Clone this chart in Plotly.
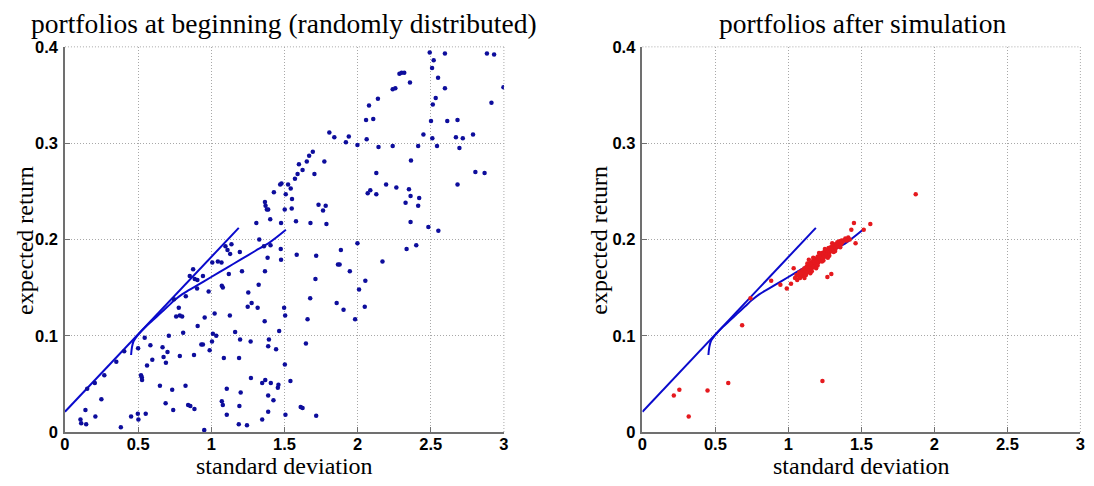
import plotly.graph_objects as go

# ---------------- data ----------------
start_sd = [2.493,2.597,2.884,2.933,2.520,2.509,2.550,2.597,2.997,2.534,2.514,2.915,2.502,2.613,2.683,2.511,2.672,2.719,2.789,2.543,
            2.696,2.450,2.414,2.358,2.286,2.301,2.319,2.258,2.240,2.139,2.078,2.058,2.107,2.062,2.143,2.240,1.999,1.940,1.920,1.841,
            1.807,2.365,2.128,2.195,2.265,2.351,2.069,2.087,2.128,2.362,2.421,2.328,2.414,2.362,2.484,2.552,2.805,2.868,2.683,1.773,
            1.694,1.669,1.653,1.624,1.599,1.590,1.572,1.705,1.525,1.543,1.509,1.552,1.550,1.502,1.480,1.471,1.428,1.367,1.371,1.380,
            1.389,1.403,1.308,1.477,1.579,1.678,1.733,1.782,1.764,1.787,
            0.106,0.111,0.140,0.145,0.208,0.249,0.269,0.204,0.152,0.351,0.382,0.405,0.452,0.498,0.502,0.500,0.520,0.525,0.527,0.552,
            0.545,0.561,0.584,0.597,0.649,0.667,0.674,0.688,0.690,0.701,0.710,0.733,0.740,0.760,0.778,0.785,0.801,0.808,0.824,0.785,
            0.826,0.842,0.857,0.885,0.882,0.907,0.903,0.932,0.943,0.955,0.952,0.982,0.989,1.005,1.011,1.023,1.034,1.072,1.079,1.072,
            1.079,1.086,1.106,1.106,1.120,1.127,1.163,1.190,1.192,1.201,1.188,1.197,1.210,1.249,1.253,1.244,1.269,1.271,1.276,1.317,
            1.324,1.348,1.348,1.369,1.367,1.385,1.389,1.389,1.389,1.394,1.407,1.425,1.443,1.455,1.459,1.464,1.475,1.477,1.498,1.505,
            1.503,1.507,1.541,1.584,1.611,1.138,1.097,1.111,1.129,1.195,1.405,1.360,1.070,1.007,1.045,0.943,0.905,0.876,0.853,0.887,
            1.328,0.745,
            2.335,2.401,2.170,1.999,1.886,1.717,1.866,1.877,1.947,1.712,2.053,2.010,1.676,1.857,2.049,1.904,1.658,1.983,1.647,1.624,
            1.717,1.365]
start_ret = [0.394,0.393,0.393,0.392,0.386,0.378,0.368,0.357,0.358,0.347,0.340,0.342,0.323,0.323,0.324,0.305,0.306,0.305,0.309,0.297,
             0.295,0.309,0.297,0.363,0.372,0.373,0.373,0.357,0.356,0.346,0.339,0.324,0.325,0.304,0.296,0.297,0.298,0.307,0.301,0.306,
             0.311,0.282,0.269,0.257,0.254,0.252,0.248,0.251,0.247,0.245,0.243,0.238,0.235,0.218,0.213,0.209,0.270,0.269,0.257,0.281,
             0.291,0.287,0.281,0.272,0.278,0.268,0.263,0.268,0.257,0.253,0.247,0.242,0.232,0.231,0.258,0.257,0.249,0.239,0.235,0.231,
             0.231,0.221,0.217,0.217,0.219,0.217,0.236,0.235,0.230,0.216,
             0.013,0.009,0.023,0.008,0.016,0.034,0.059,0.051,0.045,0.073,0.005,0.084,0.016,0.019,0.013,0.087,0.059,0.057,0.054,0.019,
             0.098,0.069,0.090,0.075,0.048,0.088,0.078,0.030,0.072,0.083,0.100,0.044,0.023,0.120,0.129,0.121,0.120,0.103,0.048,0.079,
             0.141,0.028,0.027,0.024,0.080,0.110,0.149,0.091,0.091,0.119,0.002,0.146,0.085,0.094,0.102,0.123,0.100,0.152,0.150,0.032,
             0.028,0.077,0.045,0.018,0.164,0.121,0.104,0.077,0.027,0.041,0.008,0.096,0.167,0.130,0.145,0.007,0.094,0.056,0.134,0.129,
             0.153,0.013,0.051,0.054,0.167,0.181,0.038,0.021,0.089,0.096,0.051,0.033,0.086,0.046,0.049,0.105,0.190,0.179,0.129,0.121,
             0.070,0.018,0.053,0.184,0.026,0.195,0.193,0.189,0.185,0.187,0.194,0.193,0.176,0.176,0.177,0.162,0.158,0.169,0.162,0.159,
             0.200,0.138,
             0.190,0.194,0.177,0.196,0.189,0.183,0.174,0.174,0.167,0.159,0.157,0.148,0.139,0.134,0.130,0.127,0.117,0.117,0.092,0.025,
             0.017,0.115]

after_sd = [0.215,0.253,0.317,0.446,0.588,0.683,0.740,0.882,0.945,0.989,1.018,1.036,1.233,1.267,1.294,1.460,1.449,1.561,1.516,1.431,1.872,
            1.045,1.055,1.060,1.070,1.075,1.080,1.090,1.095,1.100,1.105,1.110,1.115,1.120,1.125,1.130,1.135,1.140,1.145,1.150,1.155,
            1.160,1.165,1.170,1.175,1.180,1.185,1.190,1.195,1.200,1.205,1.210,1.215,1.220,1.225,1.230,1.235,1.240,1.245,1.250,1.255,
            1.260,1.265,1.270,1.275,1.280,1.285,1.290,1.295,1.300,1.305,1.310,1.315,1.320,1.325,1.330,1.335,1.340,1.345,1.350,1.360,
            1.365,1.370,1.380,1.390,1.400,1.410,1.420,1.110,1.150,1.190,1.130,1.170,1.210,1.250,1.300,1.120,1.160,1.200,1.240,1.280,
            1.320,1.355,1.085,1.140,1.230,1.270,1.310]
after_ret = [0.038,0.044,0.016,0.043,0.051,0.111,0.139,0.157,0.153,0.149,0.154,0.170,0.053,0.161,0.164,0.196,0.217,0.216,0.210,0.210,0.247,
             0.160,0.163,0.158,0.162,0.166,0.160,0.164,0.168,0.162,0.166,0.170,0.164,0.168,0.172,0.166,0.170,0.174,0.168,0.172,0.176,
             0.170,0.174,0.178,0.172,0.176,0.180,0.174,0.178,0.182,0.176,0.180,0.184,0.178,0.182,0.186,0.180,0.184,0.187,0.182,0.186,
             0.189,0.184,0.188,0.191,0.186,0.190,0.192,0.188,0.191,0.194,0.189,0.193,0.195,0.191,0.194,0.197,0.193,0.196,0.198,0.195,
             0.199,0.197,0.199,0.201,0.199,0.202,0.200,0.160,0.165,0.170,0.175,0.181,0.186,0.190,0.196,0.163,0.167,0.173,0.178,0.183,
             0.188,0.192,0.165,0.179,0.177,0.181,0.187]

frontier_sd = [0.452, 0.458, 0.468, 0.485, 0.50, 0.55, 0.60, 0.65, 0.70, 0.75, 0.80, 0.90, 1.00, 1.10, 1.20, 1.30, 1.40, 1.51]
frontier_ret = [0.080, 0.088, 0.094, 0.098, 0.101, 0.109, 0.116, 0.123, 0.130, 0.137, 0.143, 0.152, 0.161, 0.170, 0.179, 0.188, 0.197, 0.210]

cml_sd = [0.0, 1.188]
cml_ret = [0.021, 0.212]

x_ticks = [0, 0.5, 1, 1.5, 2, 2.5, 3]
x_labels = ["0", "0.5", "1", "1.5", "2", "2.5", "3"]
y_ticks = [0, 0.1, 0.2, 0.3, 0.4]
y_labels = ["0", "0.1", "0.2", "0.3", "0.4"]

titles = ["portfolios at beginning (randomly distributed)", "portfolios after simulation"]
x_title = "standard deviation"
y_title = "expected return"

# ---------------- figure ----------------
W, H = 1094, 486
LINE_BLUE = "#0a0acc"
GRID = "#a8a8a8"
AXIS = "#707070"
fig = go.Figure()

for i, (xs, ys, col) in enumerate([(start_sd, start_ret, "#0d0d9c"), (after_sd, after_ret, "#e5191e")]):
    xa = "x" if i == 0 else "x2"
    ya = "y" if i == 0 else "y2"
    fig.add_trace(go.Scatter(x=cml_sd, y=cml_ret, mode="lines", xaxis=xa, yaxis=ya,
                             line=dict(color=LINE_BLUE, width=2), showlegend=False, hoverinfo="skip"))
    fig.add_trace(go.Scatter(x=frontier_sd, y=frontier_ret, mode="lines", xaxis=xa, yaxis=ya,
                             line=dict(color=LINE_BLUE, width=2, shape="spline"), showlegend=False, hoverinfo="skip"))
    fig.add_trace(go.Scatter(x=xs, y=ys, mode="markers", xaxis=xa, yaxis=ya,
                             marker=dict(color=col, size=4.5, line=dict(width=0)), showlegend=False))

tickfont = dict(family="Liberation Sans", size=16.5, color="black", weight="bold")
serif = "Liberation Serif"

def xaxis(dom, anchor):
    return dict(domain=dom, anchor=anchor, range=[0, 3], tickvals=x_ticks, ticktext=x_labels,
                showgrid=True, gridcolor=GRID, griddash="1px,2px", gridwidth=1,
                showline=True, linecolor=AXIS, linewidth=1.5, ticks="inside", ticklen=5,
                tickcolor=AXIS, tickfont=tickfont, zeroline=False, fixedrange=True,
                ticklabeloverflow="allow", ticklabelstandoff=-4)

def yaxis(dom, anchor):
    return dict(domain=dom, anchor=anchor, range=[0, 0.4], tickvals=y_ticks, ticktext=y_labels,
                showgrid=True, gridcolor=GRID, griddash="1px,2px", gridwidth=1,
                showline=True, linecolor=AXIS, linewidth=1.5, ticks="inside", ticklen=5,
                tickcolor=AXIS, tickfont=tickfont, zeroline=False, fixedrange=True,
                ticklabeloverflow="allow", ticklabelstandoff=2)

ybot = (H - 439.3) / H
ytop = (H - 39.3) / H
fig.update_layout(
    width=W, height=H, autosize=False,
    margin=dict(l=0, r=0, t=0, b=0),
    paper_bgcolor="white", plot_bgcolor="white",
    xaxis=xaxis([60.5 / W, 503.5 / W], "y"),
    yaxis=yaxis([ybot, ytop], "x"),
    xaxis2=xaxis([643.3 / W, 1085.3 / W], "y2"),
    yaxis2=yaxis([ybot, ytop], "x2"),
)

# top/right dotted border lines (grid at range ends)
for xr, yr in [("x domain", "y domain"), ("x2 domain", "y2 domain")]:
    fig.add_shape(type="line", xref=xr, yref=yr, x0=0, x1=1, y0=1, y1=1,
                  line=dict(color=GRID, width=1, dash="1px,2px"), layer="below")
    fig.add_shape(type="line", xref=xr, yref=yr, x0=1, x1=1, y0=0, y1=1,
                  line=dict(color=GRID, width=1, dash="1px,2px"), layer="below")

title_font = dict(family=serif, size=27.5, color="black")
label_font = dict(family=serif, size=24, color="black")
fig.add_annotation(text=titles[0], xref="paper", yref="paper", x=282 / W, y=(H - 15) / H,
                   showarrow=False, xanchor="center", yanchor="middle", font=title_font)
fig.add_annotation(text=titles[1], xref="paper", yref="paper", x=865 / W, y=(H - 15) / H,
                   showarrow=False, xanchor="center", yanchor="middle", font=title_font)
for cx in [282, 864]:
    fig.add_annotation(text=x_title, xref="paper", yref="paper", x=cx / W, y=(H - 475) / H,
                       showarrow=False, xanchor="center", yanchor="middle", font=label_font)
for cx in [20, 600]:
    fig.add_annotation(text=y_title, xref="paper", yref="paper", x=cx / W, y=(H - 240) / H,
                       showarrow=False, xanchor="center", yanchor="middle", textangle=-90, font=label_font)

fig.write_html("out.html", config={"displayModeBar": False},
               post_script="document.body.style.margin='0px';document.body.style.overflow='hidden';")
